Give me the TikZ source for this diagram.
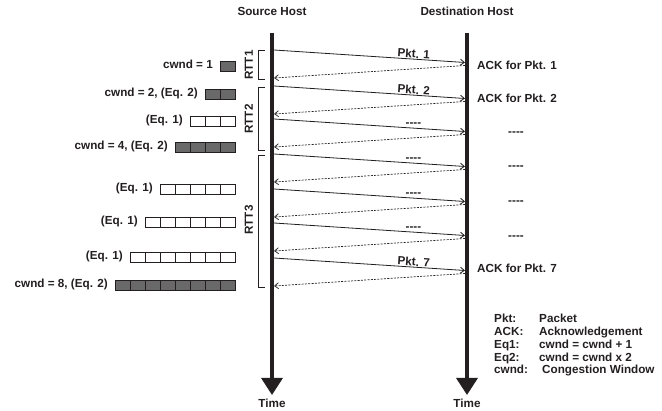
\documentclass[tikz,border=0pt]{standalone}
\usepackage{fontspec}
\setmainfont{Liberation Sans}
\usetikzlibrary{arrows.meta}
\definecolor{ink}{RGB}{35,31,32}
\definecolor{cellgrey}{RGB}{105,105,105}
\newcommand{\fourhyph}{\mbox{-}\mbox{-}\mbox{-}\mbox{-}}
\begin{document}
\begin{tikzpicture}[x=1pt,y=-1pt,
  font=\bfseries\fontsize{11.7}{13}\selectfont, text=ink,
  hostline/.style={draw=ink, line width=3.4pt, -{Triangle[length=17pt,width=21pt]}},
  pkt/.style={draw=ink, line width=0.8pt, -{Straight Barb[length=4pt,width=6pt]}},
  ack/.style={draw=ink, line width=0.7pt, dash pattern=on 2pt off 1.3pt, -{Straight Barb[length=4pt,width=6pt]}},
  lbl/.style={inner sep=0pt, text height=8.4pt, text depth=2.5pt},
  plbl/.style={above, inner sep=0.8pt, pos=0.73, text height=8.4pt, text depth=0pt},
  slope/.style={sloped},
  flat/.style={},
  rttbrace/.style={draw=ink, line width=0.8pt},
  cell/.style={draw=ink, line width=0.7pt},
]
\useasboundingbox (0,0) rectangle (662,411);

% hosts
\node[lbl] (srcT) at (272,13) {Source Host};
\node[lbl] (dstT) at (467,13) {Destination Host};
\coordinate (srcTop) at (272,33);
\coordinate (srcBot) at (272,395);
\coordinate (dstTop) at (467,33);
\coordinate (dstBot) at (467,395);
\draw[hostline] (srcTop) -- (srcBot);
\draw[hostline] (dstTop) -- (dstBot);
\node[lbl] (srcTime) at (272,405) {Time};
\node[lbl] (dstTime) at (467,405) {Time};

% packets and acks
\foreach \i/\y/\s/\t in {1/50/slope/{Pkt. 1},2/86/slope/{Pkt. 2},3/119/flat/{\fourhyph},4/154/flat/{\fourhyph},5/189/flat/{\fourhyph},6/223/flat/{\fourhyph},7/258/slope/{Pkt. 7}}{
  \coordinate (ps\i) at (274,\y);
  \coordinate (pe\i) at (465,\y+12.5);
  \coordinate (as\i) at (465,\y+15.5);
  \coordinate (ae\i) at (274,\y+28);
  \draw[pkt] (ps\i) -- node[plbl,\s] (pl\i) {\t} (pe\i);
  \draw[ack] (as\i) -- (ae\i);
}

% right-side labels
\node[lbl, anchor=west] (r1) at (477,67) {ACK for Pkt. 1};
\node[lbl, anchor=west] (r2) at (477,100) {ACK for Pkt. 2};
\node[lbl] (r3) at (516,133) {\fourhyph};
\node[lbl] (r4) at (516,167) {\fourhyph};
\node[lbl] (r5) at (516,202) {\fourhyph};
\node[lbl] (r6) at (516,237) {\fourhyph};
\node[lbl, anchor=west] (r7) at (477,270) {ACK for Pkt. 7};

% RTT brackets
\draw[rttbrace] (265,50) -- (258,50) -- (258,79) -- (265,79);
\draw[rttbrace] (265,87) -- (258,87) -- (258,150) -- (265,150);
\draw[rttbrace] (265,155) -- (258,155) -- (258,287) -- (265,287);
\node[lbl, rotate=90] (rtt1) at (250,65) {RTT1};
\node[lbl, rotate=90] (rtt2) at (250,119) {RTT2};
\node[lbl, rotate=90] (rtt3) at (250,220) {RTT3};

% congestion windows
\foreach \r/\n/\y/\f/\t in {1/1/66/cellgrey/{cwnd = 1},2/2/94/cellgrey/{cwnd = 2, (Eq. 2)},3/3/121/white/{(Eq. 1)},4/4/147/cellgrey/{cwnd = 4, (Eq. 2)},5/5/189/white/{(Eq. 1)},6/6/222/white/{(Eq. 1)},7/7/257/white/{(Eq. 1)},8/8/285/cellgrey/{cwnd = 8, (Eq. 2)}}{
  \foreach \k in {1,...,\n}{
    \draw[cell, fill=\f] (235-15*\k,\y-5) rectangle (235-15*\k+15,\y+5);
  }
  \node[lbl, anchor=east] (w\r) at (235-15*\n-7,\y) {\t};
}

% legend
\foreach \j/\y/\a/\b/\bx in {1/320/{Pkt:}/{Packet}/539,2/333/{ACK:}/{Acknowledgement}/539,3/346/{Eq1:}/{cwnd = cwnd + 1}/539,4/358.5/{Eq2:}/{cwnd = cwnd x 2}/539,5/371/{cwnd:}/{Congestion Window}/542}{
  \node[lbl, anchor=west] (lk\j) at (494,\y) {\a};
  \node[lbl, anchor=west] (lv\j) at (\bx,\y) {\b};
}
\end{tikzpicture}
\end{document}
